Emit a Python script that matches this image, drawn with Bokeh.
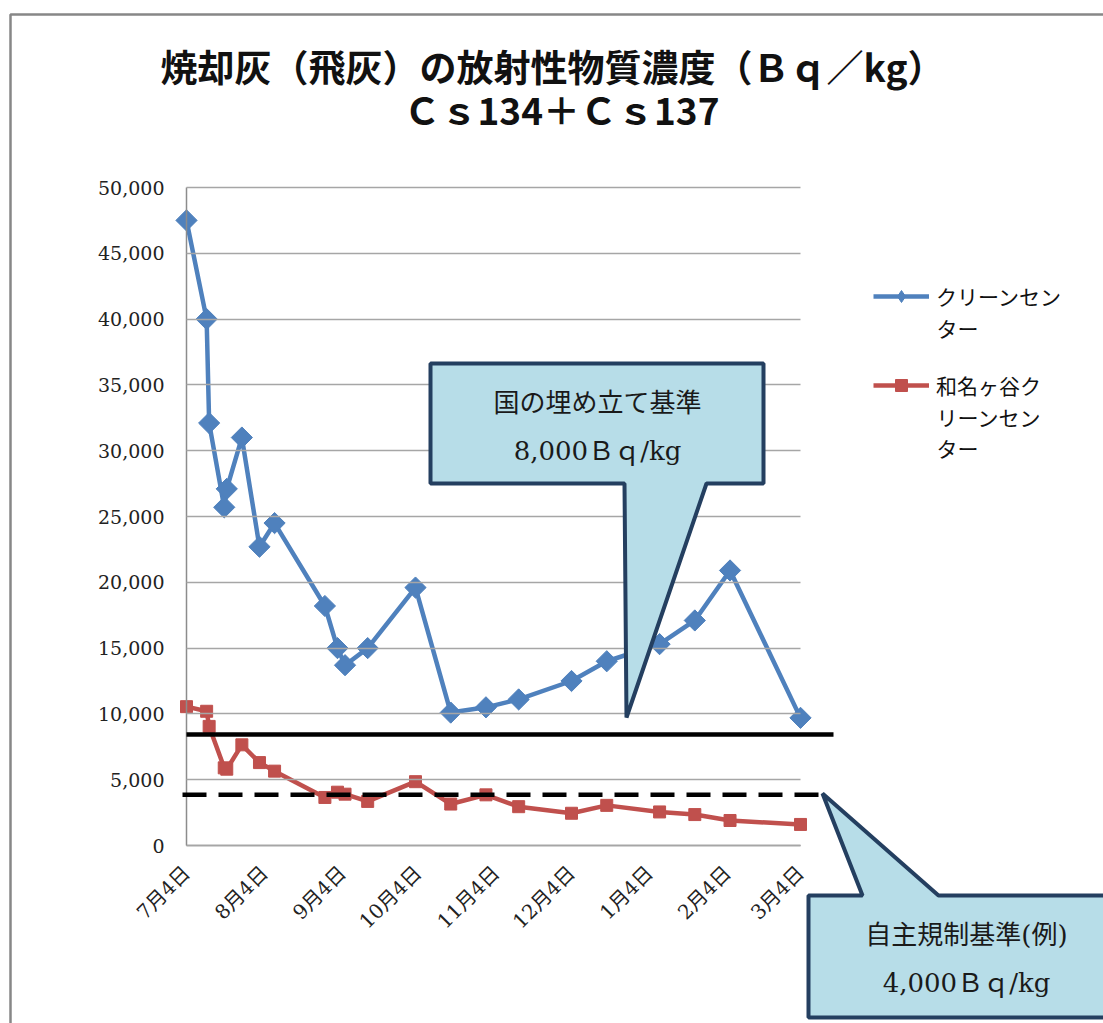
import math
import pandas as pd
from bokeh.plotting import figure
from bokeh.models import (Range1d, FixedTicker, Label, PolyAnnotation, Arrow,
                          Legend, LegendItem, NumeralTickFormatter, LinearAxis)
from bokeh.embed import file_html
from bokeh.resources import INLINE

# ---------------- data ----------------
title_line1 = "焼却灰（飛灰）の放射性物質濃度（Ｂｑ／kg）"
title_line2 = "Ｃｓ134＋Ｃｓ137"

series_names = ["クリーンセンター", "和名ヶ谷クリーンセンター"]
# legend labels as wrapped in the chart (first line in the legend, rest below it)
legend_lines = [["クリーンセン", "ター"], ["和名ヶ谷ク", "リーンセン", "ター"]]

sample_dates = ["2011-07-04", "2011-07-12", "2011-07-13", "2011-07-19", "2011-07-20",
                "2011-07-26", "2011-08-02", "2011-08-08", "2011-08-28", "2011-09-02",
                "2011-09-05", "2011-09-14", "2011-10-03", "2011-10-17", "2011-10-31",
                "2011-11-13", "2011-12-04", "2011-12-18", "2012-01-08", "2012-01-22",
                "2012-02-05", "2012-03-04"]
clean_center = [47500, 40000, 32100, 25700, 27100, 31000, 22700, 24500, 18200, 15000,
                13700, 15000, 19600, 10100, 10500, 11100, 12500, 14000, 15300, 17100,
                20900, 9700]
wanagaya = [10550, 10200, 9050, 5900, 5800, 7650, 6300, 5650, 3650, 4050,
            3900, 3350, 4850, 3150, 3850, 2950, 2450, 3050, 2550, 2350,
            1900, 1600]

tick_dates = ["2011-07-04", "2011-08-04", "2011-09-04", "2011-10-04", "2011-11-04",
              "2011-12-04", "2012-01-04", "2012-02-04", "2012-03-04"]
tick_labels = ["7月4日", "8月4日", "9月4日", "10月4日", "11月4日",
               "12月4日", "1月4日", "2月4日", "3月4日"]
y_ticks = [0, 5000, 10000, 15000, 20000, 25000, 30000, 35000, 40000, 45000, 50000]

# reference lines as drawn in the chart
landfill_level = 8430     # 国の埋め立て基準 line (as drawn)
voluntary_level = 3850    # 自主規制基準 line (as drawn)
callout1_lines = ["国の埋め立て基準", "8,000Ｂｑ/kg"]
callout2_lines = ["自主規制基準(例)", "4,000Ｂｑ/kg"]

# ---------------- derived ----------------
base = pd.Timestamp(tick_dates[0])
x_days = [(pd.Timestamp(d) - base).days for d in sample_dates]
tick_days = [(pd.Timestamp(d) - base).days for d in tick_dates]
x_last = tick_days[-1]
y_top = y_ticks[-1]

W, H = 1103, 1023
# plot area (where data 0..x_last, 0..y_top sit), in canvas pixels
PL, PR, PT, PB = 186, 800, 187, 845
sx = x_last / (PR - PL)
sy = y_top / (PB - PT)
x_range = Range1d(-PL * sx, (W - PL) * sx)
y_range = Range1d(-(H - PB) * sy, PB * sy)

p = figure(width=W, height=H, output_backend="svg", toolbar_location=None,
           x_range=x_range, y_range=y_range, x_axis_location=None, y_axis_location=None)
p.min_border = 0
p.min_border_left = 0
p.min_border_right = 0
p.min_border_top = 0
p.min_border_bottom = 0
p.outline_line_color = None
p.background_fill_color = "white"
p.border_fill_color = "white"
p.xgrid.visible = False
p.ygrid.visible = False


def X(px):
    return (px - PL) * sx


def Y(py):
    return (PB - py) * sy


SERIF = "'DejaVu Serif', 'Noto Sans CJK JP'"
CJK = "'Noto Sans CJK JP'"

# axes fixed inside the full-canvas frame; y major ticks drawn inward act as gridlines
yaxis = LinearAxis(fixed_location=0, bounds=(0, y_top),
                   ticker=FixedTicker(ticks=y_ticks),
                   formatter=NumeralTickFormatter(format="0,0"))
yaxis.axis_line_color = "#8C8C8C"
yaxis.axis_line_width = 1.5
yaxis.major_tick_line_color = "#A6A6A6"
yaxis.major_tick_line_width = 1.5
yaxis.major_tick_in = PR - PL
yaxis.major_tick_out = 0
yaxis.minor_tick_line_color = None
yaxis.major_label_text_font = SERIF
yaxis.major_label_text_font_size = "19px"
yaxis.major_label_text_color = "#222222"
yaxis.major_label_standoff = 22
p.add_layout(yaxis, "left")

xaxis = LinearAxis(fixed_location=0, bounds=(0, x_last),
                   ticker=FixedTicker(ticks=tick_days))
xaxis.major_label_overrides = {d: l for d, l in zip(tick_days, tick_labels)}
xaxis.major_label_orientation = math.pi / 4
xaxis.axis_line_color = "#8C8C8C"
xaxis.axis_line_width = 1.5
xaxis.major_tick_line_color = None
xaxis.major_tick_in = 0
xaxis.major_tick_out = 0
xaxis.minor_tick_line_color = None
xaxis.major_label_text_font = SERIF
xaxis.major_label_text_font_size = "20px"
xaxis.major_label_text_color = "#222222"
xaxis.major_label_standoff = 24
p.add_layout(xaxis, "below")

# series
BLUE = "#4F81BD"
RED = "#C0504D"
bl = p.line(x_days, clean_center, line_color=BLUE, line_width=4.5)
# narrow diamonds (used as the legend key), covered by the rotated squares
b_key = p.scatter(x_days, clean_center, marker="diamond", size=17,
                  fill_color=BLUE, line_color=BLUE)
bs = p.scatter(x_days, clean_center, marker="square", size=15, angle=math.pi / 4,
               fill_color=BLUE, line_color=BLUE)
rl = p.line(x_days, wanagaya, line_color=RED, line_width=4.5)
rs = p.scatter(x_days, wanagaya, marker="square", size=12,
               fill_color=RED, line_color=RED)

# reference lines
p.add_layout(Arrow(end=None, x_start=X(186), y_start=landfill_level,
                   x_end=X(833), y_end=landfill_level,
                   line_color="black", line_width=4.5))
p.add_layout(Arrow(end=None, x_start=X(182), y_start=voluntary_level,
                   x_end=X(820), y_end=voluntary_level,
                   line_color="black", line_width=4.5, line_dash="24 12"))

# chart area border
border_px = [(10, 1200), (10, 14), (1300, 14), (1300, 1200)]
p.add_layout(PolyAnnotation(xs=[X(a) for a, b in border_px], ys=[Y(b) for a, b in border_px],
                            fill_alpha=0, line_color="#878787", line_alpha=1, line_width=2.5))

# callouts
FILL = "#B7DDE8"
EDGE = "#243F60"
c1 = [(430, 363), (763, 363), (763, 483), (706, 483), (626, 717), (624, 483), (430, 483)]
c2 = [(808, 895), (862, 895), (822, 793), (938, 895), (1300, 895), (1300, 1017), (808, 1017)]
for poly in (c1, c2):
    p.add_layout(PolyAnnotation(xs=[X(a) for a, b in poly], ys=[Y(b) for a, b in poly],
                                fill_color=FILL, fill_alpha=1, line_color=EDGE,
                                line_alpha=1, line_width=4))

for txt, (cx, cy) in zip(callout1_lines, [(597, 402), (597, 450)]):
    p.add_layout(Label(x=X(cx), y=Y(cy), text=txt, text_align="center", text_baseline="middle",
                       text_font=SERIF, text_font_size="26px", text_color="#1A1A1A"))
for txt, (cx, cy) in zip(callout2_lines, [(966, 934), (966, 982)]):
    p.add_layout(Label(x=X(cx), y=Y(cy), text=txt, text_align="center", text_baseline="middle",
                       text_font=SERIF, text_font_size="26px", text_color="#1A1A1A"))

# title
p.add_layout(Label(x=X(552), y=Y(65), text=title_line1, text_align="center", text_baseline="middle",
                   text_font=CJK, text_font_size="37px", text_font_style="bold", text_color="#111111"))
p.add_layout(Label(x=X(561), y=Y(108), text=title_line2, text_align="center", text_baseline="middle",
                   text_font=CJK, text_font_size="37px", text_font_style="bold", text_color="#111111"))

# legend: first line of each label in the legend, remaining wrapped lines right below
LEG_X, LEG_TOP, ITEM_H, ITEM_GAP = 873, 281, 30, 59
legend = Legend(items=[LegendItem(label=legend_lines[0][0], renderers=[bl, b_key]),
                       LegendItem(label=legend_lines[1][0], renderers=[rl, rs])],
                location=(LEG_X, H - (LEG_TOP + 2 * ITEM_H + ITEM_GAP)))
legend.border_line_color = None
legend.background_fill_alpha = 0
legend.padding = 0
legend.margin = 0
legend.spacing = ITEM_GAP
legend.glyph_width = 56
legend.glyph_height = ITEM_H
legend.label_height = ITEM_H
legend.label_standoff = 7
legend.label_text_font = CJK
legend.label_text_font_size = "21px"
legend.label_text_baseline = "middle"
legend.label_text_color = "#111111"
p.add_layout(legend)

text_x = LEG_X + 56 + 7
for i, lines in enumerate(legend_lines):
    first_y = LEG_TOP + ITEM_H / 2 + i * (ITEM_H + ITEM_GAP)
    for k, line in enumerate(lines[1:], start=1):
        p.add_layout(Label(x=X(text_x), y=Y(first_y + k * 31), text=line,
                           text_align="left", text_baseline="middle",
                           text_font=CJK, text_font_size="21px", text_color="#111111"))

open("out.html", "w").write(file_html(p, INLINE))
